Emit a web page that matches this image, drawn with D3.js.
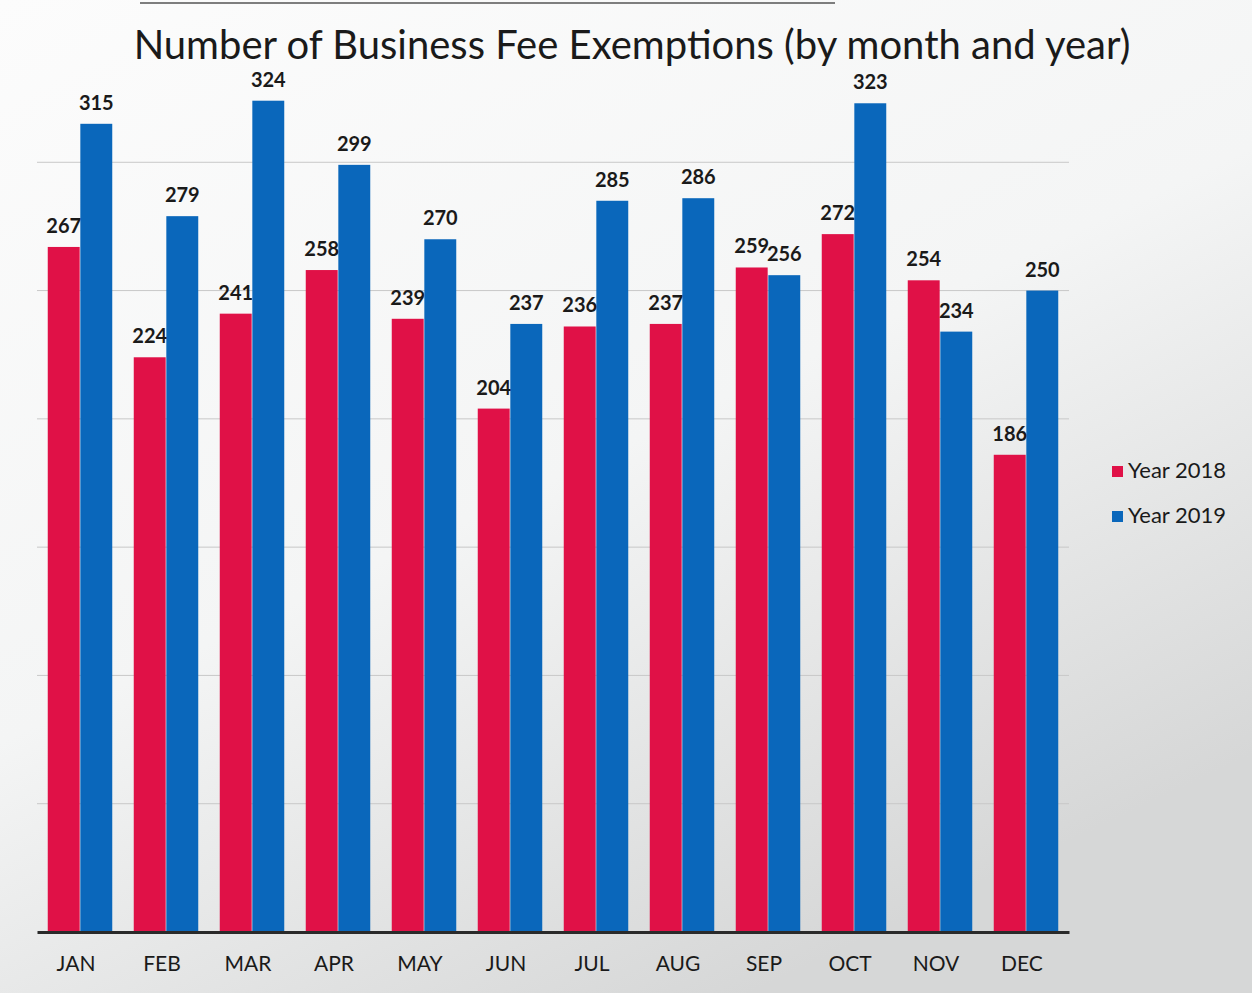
<!DOCTYPE html>
<html lang="en">
    <head>
        <meta charset="utf-8">
        <title>Business Fee Exemptions</title>
        <script type="text/javascript" src="https://d3js.org/d3.v7.min.js"></script>
        <style>
            body { margin: 0; }
            #chart text { font-family: Lato, "Open Sans", sans-serif; fill: #1a1a1a; }
            .grid line { stroke: #c8c8c8; stroke-width: 1; }
            .vlabel { font-weight: bold; font-size: 20px; }
        </style>
    </head>
    <body>
        <svg id="chart" width="1252" height="993"></svg>
    </body>
    <script>
        // data
        let months = ["JAN","FEB","MAR","APR","MAY","JUN","JUL","AUG","SEP","OCT","NOV","DEC"];
        let series = ["Year 2018", "Year 2019"];
        let year2018 = [267, 224, 241, 258, 239, 204, 236, 237, 259, 272, 254, 186];
        let year2019 = [315, 279, 324, 299, 270, 237, 285, 286, 256, 323, 234, 250];
        let gridTicks = [50, 100, 150, 200, 250, 300];
        let colors = ["#e01147", "#0a67bb"];

        let svg = d3.select("#chart");
        let margin = {left: 37, right: 183, top: 34, bottom: 61};
        let width = 1252, height = 993;

        // background, whiter top left, greyer bottom right
        let defs = svg.append("defs");
        let grad = defs.append("linearGradient")
            .attr("id", "bg")
            .attr("x1", "0").attr("y1", "0")
            .attr("x2", "0.6").attr("y2", "1");
        grad.append("stop").attr("offset", "0").attr("stop-color", "#fcfcfc");
        grad.append("stop").attr("offset", "0.55").attr("stop-color", "#f4f5f5");
        grad.append("stop").attr("offset", "1").attr("stop-color", "#d6d7d7");
        svg.append("rect")
            .attr("width", width).attr("height", height)
            .attr("fill", "url(#bg)");
        svg.append("line")
            .attr("x1", 140).attr("x2", 835).attr("y1", 3).attr("y2", 3)
            .attr("stroke", "#555").attr("stroke-width", 1.5);

        let x = d3.scaleBand()
            .domain(months)
            .range([margin.left, width - margin.right])
            .paddingInner(0.25)
            .paddingOuter(0.125);
        let x1 = d3.scaleBand()
            .domain(series)
            .range([0, x.bandwidth()])
            .paddingInner(0.02);
        let y = d3.scaleLinear()
            .domain([0, 350])
            .range([height - margin.bottom, margin.top]);

        // gridlines
        svg.append("g")
            .attr("class", "grid")
            .selectAll("line")
            .data(gridTicks)
            .enter()
            .append("line")
            .attr("x1", margin.left)
            .attr("x2", width - margin.right)
            .attr("y1", d => y(d))
            .attr("y2", d => y(d));

        let rows = months.map((m, i) => ({month: m, vals: [
            {s: series[0], v: year2018[i], c: colors[0]},
            {s: series[1], v: year2019[i], c: colors[1]}
        ]}));

        let groups = svg.append("g")
            .selectAll("g")
            .data(rows)
            .enter()
            .append("g")
            .attr("transform", d => "translate(" + x(d.month) + ",0)");

        groups.selectAll("rect")
            .data(d => d.vals)
            .enter()
            .append("rect")
            .attr("x", d => x1(d.s))
            .attr("width", x1.bandwidth())
            .attr("y", d => y(d.v))
            .attr("height", d => y(0) - y(d.v))
            .attr("fill", d => d.c);

        groups.selectAll("text")
            .data(d => d.vals)
            .enter()
            .append("text")
            .attr("class", "vlabel")
            .attr("text-anchor", "middle")
            .attr("x", d => x1(d.s) + x1.bandwidth() / 2)
            .attr("y", d => y(d.v) - 14)
            .text(d => d.v);

        // x axis
        let xAxis = svg.append("g")
            .attr("transform", "translate(0," + y(0) + ")")
            .call(d3.axisBottom(x).tickSize(0).tickPadding(24));
        xAxis.select(".domain")
            .attr("stroke", "#2a2a2a")
            .attr("stroke-width", 3);
        xAxis.selectAll("text")
            .attr("font-size", 21)
            .attr("dx", -4)
            .style("font-family", "Lato, sans-serif");

        // title
        svg.append("text")
            .attr("x", 632)
            .attr("y", 59)
            .attr("text-anchor", "middle")
            .attr("font-size", 40)
            .text("Number of Business Fee Exemptions (by month and year)");

        // legend
        let legend = svg.append("g")
            .selectAll("g")
            .data(series)
            .enter()
            .append("g")
            .attr("transform", (d, i) => "translate(1112," + (468 + i * 45) + ")");
        legend.append("rect")
            .attr("width", 11).attr("height", 11)
            .attr("y", -2)
            .attr("fill", (d, i) => colors[i]);
        legend.append("text")
            .attr("x", 16)
            .attr("y", 4)
            .attr("dominant-baseline", "middle")
            .attr("font-size", 22)
            .text(d => d);
    </script>
</html>
